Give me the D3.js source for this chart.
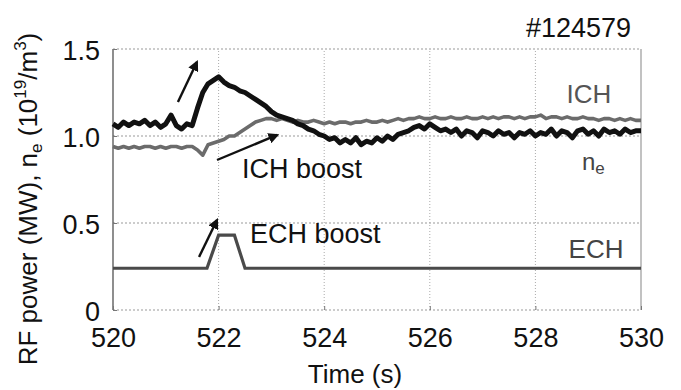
<!DOCTYPE html>
<html>
<head>
<meta charset="utf-8">
<script src="https://cdn.jsdelivr.net/npm/d3@7"></script>
<style>
  body { margin: 0; background: #fff; }
  svg { display: block; font-family: "Liberation Sans", Arial, sans-serif; }
</style>
</head>
<body>
<div id="chart"></div>
<script>
// sampling: 520.0 s to 530.0 s every 0.1 s
const t0 = 520;
const dt = 0.1;

// electron density n_e (10^19 /m^3)
const neValues = [
  1.07, 1.05, 1.08, 1.06, 1.08, 1.07, 1.09, 1.06, 1.08, 1.05,
  1.07, 1.12, 1.06, 1.04, 1.07, 1.06, 1.16, 1.25, 1.30, 1.32,
  1.34, 1.31, 1.29, 1.28, 1.26, 1.25, 1.23, 1.21, 1.19, 1.17,
  1.14, 1.12, 1.11, 1.10, 1.09, 1.07, 1.06, 1.04, 1.03, 1.01,
  1.00, 0.98, 0.99, 0.96, 0.98, 0.96, 0.99, 0.95, 0.97, 0.96,
  0.99, 0.97, 1.00, 0.98, 1.01, 1.02, 1.03, 1.05, 1.06, 1.04,
  1.07, 1.05, 1.03, 1.04, 1.02, 1.04, 1.00, 1.03, 1.02, 0.99,
  1.03, 1.02, 1.00, 1.03, 1.01, 1.02, 0.99, 1.02, 1.01, 1.03,
  1.00, 1.02, 1.01, 1.04, 1.00, 1.03, 1.02, 0.99, 1.03, 1.04,
  1.01, 1.03, 1.00, 1.04, 1.02, 1.03, 1.01, 1.04, 1.02, 1.03,
  1.03
];

// ICH power (MW)
const ichValues = [
  0.94, 0.93, 0.94, 0.93, 0.94, 0.93, 0.94, 0.94, 0.93, 0.94,
  0.93, 0.94, 0.94, 0.93, 0.94, 0.94, 0.92, 0.89, 0.95, 0.96,
  0.97, 0.98, 1.00, 1.00, 1.02, 1.04, 1.06, 1.08, 1.09, 1.10,
  1.10, 1.09, 1.10, 1.09, 1.08, 1.09, 1.08, 1.08, 1.09, 1.08,
  1.07, 1.08, 1.07, 1.08, 1.08, 1.07, 1.08, 1.08, 1.09, 1.08,
  1.08, 1.09, 1.08, 1.09, 1.10, 1.09, 1.10, 1.10, 1.11, 1.10,
  1.10, 1.11, 1.10, 1.10, 1.11, 1.10, 1.10, 1.11, 1.10, 1.10,
  1.11, 1.10, 1.11, 1.10, 1.11, 1.11, 1.10, 1.11, 1.10, 1.11,
  1.11, 1.12, 1.10, 1.11, 1.11, 1.10, 1.11, 1.10, 1.10, 1.11,
  1.10, 1.10, 1.09, 1.10, 1.10, 1.09, 1.10, 1.09, 1.10, 1.09,
  1.09
];

// ECH power (MW): corner points of the trace
const echTimes = [520, 521.78, 522.0, 522.3, 522.5, 530];
const echValues = [0.24, 0.24, 0.43, 0.43, 0.24, 0.24];

const xTicks = [520, 522, 524, 526, 528, 530];
const yTicks = [0, 0.5, 1.0, 1.5];
const yTickLabels = ['0', '0.5', '1.0', '1.5'];

// arrows: [tail time, tail value, head time, head value]
const arrows = [
  [521.23, 1.195, 521.59, 1.425],
  [521.97, 0.862, 523.11, 1.006],
  [521.63, 0.305, 521.97, 0.517]
];

const width = 681, height = 390;
const margin = { top: 49, right: 40, bottom: 80, left: 113 };

const svg = d3.select('#chart').append('svg')
  .attr('width', width)
  .attr('height', height);

const x = d3.scaleLinear().domain([520, 530]).range([margin.left, width - margin.right]);
const y = d3.scaleLinear().domain([0, 1.5]).range([height - margin.bottom, margin.top]);

svg.append('defs').append('marker')
  .attr('id', 'head')
  .attr('viewBox', '0 0 10 10')
  .attr('refX', 8).attr('refY', 5)
  .attr('markerWidth', 4.5).attr('markerHeight', 4.5)
  .attr('orient', 'auto')
  .append('path')
  .attr('d', 'M0,0 L10,5 L0,10 z')
  .attr('fill', '#111');

// dotted grid
svg.append('g')
  .selectAll('line')
  .data(yTicks)
  .join('line')
  .attr('x1', x(520)).attr('x2', x(530))
  .attr('y1', d => y(d)).attr('y2', d => y(d))
  .attr('stroke', '#999')
  .attr('stroke-width', 1)
  .attr('stroke-dasharray', '2,2');

svg.append('g')
  .selectAll('line')
  .data(xTicks.slice(1, -1))
  .join('line')
  .attr('x1', d => x(d)).attr('x2', d => x(d))
  .attr('y1', y(0)).attr('y2', y(1.5))
  .attr('stroke', '#aaa')
  .attr('stroke-width', 1)
  .attr('stroke-dasharray', '1,2');

// frame: solid left and right edges
svg.append('line')
  .attr('x1', x(520)).attr('x2', x(520))
  .attr('y1', y(0)).attr('y2', y(1.5))
  .attr('stroke', '#444').attr('stroke-width', 1.2);
svg.append('line')
  .attr('x1', x(530)).attr('x2', x(530))
  .attr('y1', y(0)).attr('y2', y(1.5))
  .attr('stroke', '#999').attr('stroke-width', 1.2);

// axes
const xAxis = svg.append('g')
  .attr('transform', `translate(0,${y(0)})`)
  .call(d3.axisBottom(x).tickValues(xTicks).tickFormat(d3.format('d')).tickSize(-4).tickPadding(18));
xAxis.select('.domain').remove();
xAxis.selectAll('line').attr('stroke', '#777');
xAxis.selectAll('text')
  .attr('font-size', '27px')
  .attr('font-family', '"Liberation Sans", Arial, sans-serif')
  .attr('fill', '#111');

const yAxis = svg.append('g')
  .attr('transform', `translate(${x(520)},0)`)
  .call(d3.axisLeft(y).tickValues(yTicks).tickFormat((d, i) => yTickLabels[i]).tickSize(-4).tickPadding(13));
yAxis.select('.domain').remove();
yAxis.selectAll('line').attr('stroke', '#777');
yAxis.selectAll('text')
  .attr('font-size', '27px')
  .attr('font-family', '"Liberation Sans", Arial, sans-serif')
  .attr('fill', '#111')
  .attr('dy', '0.4em');

// traces
const sampled = vals => vals.map((v, i) => ({ t: t0 + i * dt, v }));

const line = d3.line()
  .x(d => x(d.t))
  .y(d => y(d.v));

svg.append('path')
  .datum(echTimes.map((t, i) => ({ t, v: echValues[i] })))
  .attr('d', line)
  .attr('fill', 'none')
  .attr('stroke', '#4a4a4a')
  .attr('stroke-width', 3.2);

svg.append('path')
  .datum(sampled(ichValues))
  .attr('d', line)
  .attr('fill', 'none')
  .attr('stroke', '#6b6b6b')
  .attr('stroke-width', 3.6)
  .attr('stroke-linejoin', 'round');

svg.append('path')
  .datum(sampled(neValues))
  .attr('d', line)
  .attr('fill', 'none')
  .attr('stroke', '#111')
  .attr('stroke-width', 5)
  .attr('stroke-linejoin', 'round');

// arrows
svg.append('g')
  .selectAll('line')
  .data(arrows)
  .join('line')
  .attr('x1', d => x(d[0])).attr('y1', d => y(d[1]))
  .attr('x2', d => x(d[2])).attr('y2', d => y(d[3]))
  .attr('stroke', '#111')
  .attr('stroke-width', 2.4)
  .attr('marker-end', 'url(#head)');

// labels
const label = (tx, ty, txt, size, fill, anchor) =>
  svg.append('text')
    .attr('x', tx).attr('y', ty)
    .attr('font-size', size + 'px')
    .attr('fill', fill)
    .attr('text-anchor', anchor || 'start')
    .text(txt);

label(631, 37, '#124579', 27, '#111', 'end');
label(589, 103, 'ICH', 26, '#555', 'middle');
label(596, 258, 'ECH', 26, '#444', 'middle');
label(242, 178, 'ICH boost', 27, '#111');
label(250, 243, 'ECH boost', 27, '#111');

const ne = svg.append('text')
  .attr('x', 582).attr('y', 170)
  .attr('font-size', '24px')
  .attr('fill', '#444');
ne.append('tspan').text('n');
ne.append('tspan').attr('font-size', '17px').attr('dy', 4).text('e');

svg.append('text')
  .attr('x', 355).attr('y', 383)
  .attr('text-anchor', 'middle')
  .attr('font-size', '26px')
  .attr('fill', '#111')
  .text('Time (s)');

const yTitle = svg.append('text')
  .attr('transform', `translate(37,199) rotate(-90)`)
  .attr('text-anchor', 'middle')
  .attr('font-size', '26px')
  .attr('fill', '#111');
yTitle.append('tspan').text('RF power (MW), n');
yTitle.append('tspan').attr('font-size', '17px').attr('dy', 5).text('e');
yTitle.append('tspan').attr('dy', -5).text(' (10');
yTitle.append('tspan').attr('font-size', '17px').attr('dy', -11).text('19');
yTitle.append('tspan').attr('dy', 11).text('/m');
yTitle.append('tspan').attr('font-size', '17px').attr('dy', -11).text('3');
yTitle.append('tspan').attr('dy', 11).text(')');
</script>
</body>
</html>
